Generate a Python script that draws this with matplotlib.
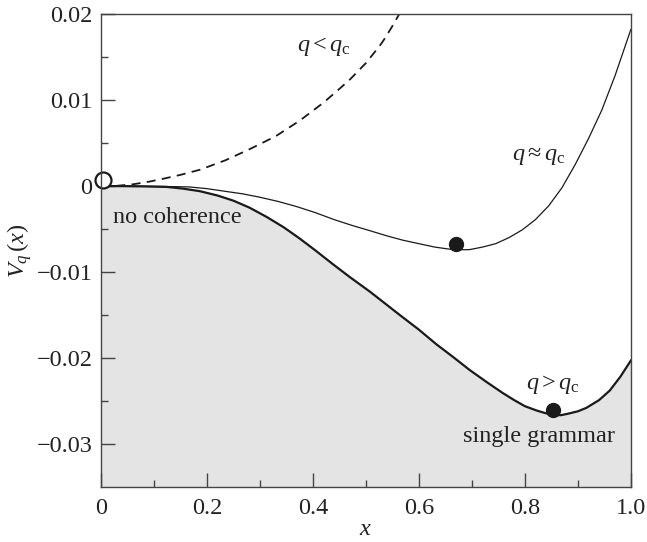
import numpy as np
import matplotlib
matplotlib.use("Agg")
import matplotlib.pyplot as plt

plt.rcParams['font.family'] = ['Liberation Serif', 'DejaVu Serif']
plt.rcParams['mathtext.fontset'] = 'custom'
plt.rcParams['mathtext.rm'] = 'Liberation Serif'
plt.rcParams['mathtext.it'] = 'Liberation Serif:italic'
plt.rcParams['mathtext.bf'] = 'Liberation Serif:bold'

# q > qc (thick curve, grey below)
x_high = [0, 0.04, 0.08, 0.124, 0.155, 0.187, 0.22, 0.25, 0.28, 0.313, 0.345,
          0.375, 0.405, 0.438, 0.47, 0.508, 0.535, 0.564, 0.6, 0.633, 0.665,
          0.696, 0.728, 0.759, 0.78, 0.80, 0.822, 0.838, 0.853, 0.868, 0.88,
          0.9, 0.916, 0.94, 0.96, 0.98, 1.0]
y_high = [0, -0.00001, -0.00004, -0.0001, -0.0003, -0.0006, -0.0011, -0.0017,
          -0.0025, -0.0036, -0.0048, -0.0061, -0.0075, -0.0091, -0.0106,
          -0.0123, -0.0136, -0.0150, -0.0167, -0.0184, -0.0199, -0.0214,
          -0.0228, -0.0241, -0.0249, -0.0256, -0.0261, -0.0264, -0.0266,
          -0.02665, -0.0265, -0.0262, -0.0258, -0.0249, -0.0238, -0.0222,
          -0.0203]

# q ~ qc (thin curve)
x_crit = [0, 0.06, 0.12, 0.166, 0.2, 0.233, 0.267, 0.3, 0.335, 0.37, 0.405,
          0.44, 0.475, 0.508, 0.54, 0.57, 0.6, 0.63, 0.665, 0.695, 0.72, 0.745,
          0.77, 0.795, 0.82, 0.845, 0.87, 0.895, 0.92, 0.945, 0.97, 1.0]
y_crit = [0, -0.00001, -0.00005, -0.0001, -0.0003, -0.0006, -0.0009, -0.0013,
          -0.0018, -0.0024, -0.0031, -0.0039, -0.0046, -0.0052, -0.0058,
          -0.0063, -0.0067, -0.0071, -0.0074, -0.0074, -0.0071, -0.0067,
          -0.0060, -0.0051, -0.0039, -0.0023, -0.0002, 0.0025, 0.0055, 0.0088,
          0.0128, 0.0182]

# q < qc (dashed)
x_low = [0, 0.03, 0.06, 0.09, 0.114, 0.15, 0.187, 0.235, 0.281, 0.33, 0.375,
         0.42, 0.45, 0.47, 0.50, 0.526, 0.535, 0.55, 0.563]
y_low = [0, 0.00003, 0.0002, 0.0005, 0.0008, 0.0013, 0.0019, 0.0030, 0.0043,
         0.0058, 0.0076, 0.0097, 0.0113, 0.0124, 0.0143, 0.0163, 0.0171,
         0.0186, 0.0200]

# stable points
x_open, y_open = 0.004, 0.0007
x_dots = [0.671, 0.853]
y_dots = [-0.0067, -0.0260]

fig = plt.figure(figsize=(6.47, 5.42), dpi=100)
ax = fig.add_axes([0.156, 0.1015, 0.819, 0.8725])

ax.fill_between(x_high, y_high, -0.035, color='#e4e4e4', lw=0, zorder=1)
ax.plot(x_high, y_high, color='#1a1a1a', lw=1.6, zorder=3)
ax.plot(x_crit, y_crit, color='#1a1a1a', lw=0.9, zorder=3)
ax.plot(x_low, y_low, color='#1a1a1a', lw=1.3, ls=(0, (5, 3.5)), zorder=3)
ax.plot(x_dots, y_dots, 'o', color='#1a1a1a', ms=10, zorder=4)
ax.plot([x_open], [y_open], 'o', mfc='white', mec='#1a1a1a', mew=1.6, ms=11.5,
        zorder=5, clip_on=False)

fs = 17.5
tc = '#222222'
ax.text(0.421, 0.0162, r'$q < q_{\mathrm{c}}$', fontsize=fs, ha='center', va='center', color=tc)
ax.text(0.826, 0.0035, r'$q \approx q_{\mathrm{c}}$', fontsize=fs, ha='center', va='center', color=tc)
ax.text(0.853, -0.0231, r'$q > q_{\mathrm{c}}$', fontsize=fs, ha='center', va='center', color=tc)
ax.text(0.827, -0.0291, 'single grammar', fontsize=fs, ha='center', va='center', color=tc)
ax.text(0.144, -0.0036, 'no coherence', fontsize=fs, ha='center', va='center', color=tc)

ax.set_xlim(0, 1)
ax.set_ylim(-0.035, 0.02)
ax.set_xticks([0, 0.2, 0.4, 0.6, 0.8, 1.0])
ax.set_xticklabels(['0', '0.2', '0.4', '0.6', '0.8', '1.0'])
ax.set_xticks(np.arange(0.1, 1.0, 0.2), minor=True)
ax.set_yticks([-0.03, -0.02, -0.01, 0, 0.01, 0.02])
ax.set_yticklabels(['\u22120.03', '\u22120.02', '\u22120.01', '0', '0.01', '0.02'])
ax.set_yticks([-0.025, -0.015, -0.005, 0.005, 0.015], minor=True)

ax.tick_params(which='both', direction='in', color='#444444', labelsize=fs,
               labelcolor=tc, top=False, right=False)
ax.tick_params(which='major', length=10, width=1)
ax.tick_params(which='minor', length=5, width=1)
ax.tick_params(axis='y', pad=6)
ax.tick_params(axis='x', pad=8)
for s in ax.spines.values():
    s.set_color('#444444')
    s.set_linewidth(1.0)
    s.set_zorder(6)

ax.set_xlabel(r'$x$', fontsize=fs, color=tc, labelpad=0)
ax.set_ylabel(r'$V_q\,(x)$', fontsize=fs, color=tc, labelpad=2)

fig.savefig('out.png', dpi=100)
